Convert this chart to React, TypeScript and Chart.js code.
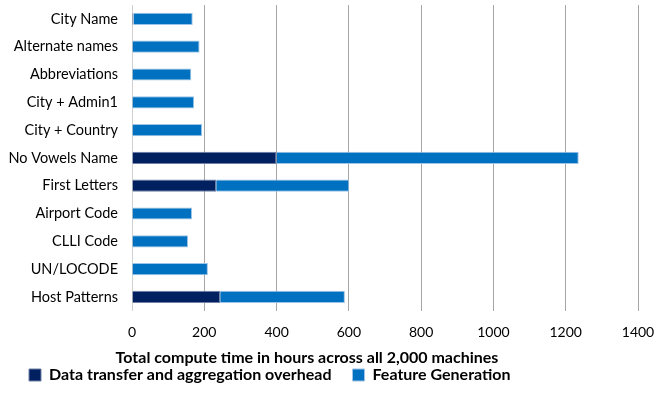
import React, { useEffect, useRef } from "react";
import { Chart, registerables } from "chart.js";

Chart.register(...registerables);

const categories = [
  "City Name",
  "Alternate names",
  "Abbreviations",
  "City + Admin1",
  "City + Country",
  "No Vowels Name",
  "First Letters",
  "Airport Code",
  "CLLI Code",
  "UN/LOCODE",
  "Host Patterns",
];
const overheadValues = [4, 0, 0, 0, 0, 400, 233, 0, 0, 0, 244];
const featureValues = [164, 187, 164, 172, 194, 836, 368, 166, 155, 210, 345];
const seriesNames = ["Data transfer and aggregation overhead", "Feature Generation"];
const axisTitle = "Total compute time in hours across all 2,000 machines";
const xMin = 0;
const xMax = 1400;
const xStep = 200;

const Y_FONT = "14.5px Lato";
const Y_PAD = 14;

const titleShift = {
  id: "titleShift",
  afterLayout(chart: any) {
    const t = chart.titleBlock;
    if (t) {
      t.left -= 24;
      t.right -= 24;
    }
  },
};

export default function App() {
  const ref = useRef<HTMLCanvasElement | null>(null);
  useEffect(() => {
    document.body.style.margin = "0";
    let chart: Chart | null = null;
    let cancelled = false;
    const fontsReady = Promise.all([
      document.fonts.load("15px Lato"),
      document.fonts.load("14px Lato"),
      document.fonts.load("bold 16px Lato"),
    ]).catch(() => null);
    fontsReady.then(() => {
      if (cancelled || !ref.current) return;
      chart = new Chart(ref.current, {
        type: "bar",
        data: {
          labels: categories,
          datasets: [
            {
              label: seriesNames[0],
              data: overheadValues,
              backgroundColor: "#002060",
              borderColor: "#6F7FA5",
              borderWidth: 1,
              categoryPercentage: 1,
              barPercentage: 0.44,
            },
            {
              label: seriesNames[1],
              data: featureValues,
              backgroundColor: "#0070C0",
              borderColor: "#9DC3E6",
              borderWidth: 1,
              categoryPercentage: 1,
              barPercentage: 0.44,
            },
          ],
        },
        plugins: [titleShift],
        options: {
          indexAxis: "y",
          animation: false,
          responsive: false,
          maintainAspectRatio: false,
          layout: { padding: { top: 5, left: 8, right: 0, bottom: 15 } },
          scales: {
            x: {
              stacked: true,
              min: xMin,
              max: xMax,
              ticks: {
                stepSize: xStep,
                color: "#000",
                font: { family: "Lato", size: 14 },
                padding: 13,
                callback: (v: any) => String(v),
              },
              grid: {
                color: (c: any) => (c.index === 0 ? "#D0D0D0" : "#A6A6A6"),
                lineWidth: 1,
                drawTicks: false,
              },
              border: { display: false },
              afterFit: (s: any) => {
                s.height = 30;
                s.paddingLeft = 0;
                s.paddingRight = 16;
              },
            },
            y: {
              stacked: true,
              ticks: {
                color: "#000",
                font: { family: "Lato", size: 14.5 },
                padding: Y_PAD,
              },
              grid: { display: false, drawTicks: false },
              border: { display: false },
              afterFit: (s: any) => {
                const c = s.ctx as CanvasRenderingContext2D;
                c.save();
                c.font = Y_FONT;
                let w = 0;
                for (const l of categories) w = Math.max(w, c.measureText(l).width);
                c.restore();
                s.width = Math.ceil(w) + Y_PAD;
                s.paddingTop = 0;
                s.paddingBottom = 0;
              },
            },
          },
          plugins: {
            tooltip: { enabled: false },
            title: {
              display: true,
              position: "bottom",
              text: axisTitle,
              weight: 500,
              color: "#000",
              font: { family: "Lato", size: 16, weight: "bold" },
              padding: { top: 7, bottom: -21 },
            } as any,
            legend: {
              position: "bottom",
              align: "start",
              labels: {
                boxWidth: 12,
                boxHeight: 12,
                color: "#000",
                font: { family: "Lato", size: 16, weight: "bold" },
                padding: 21,
              },
            },
          },
        },
      });
    });
    return () => {
      cancelled = true;
      if (chart) chart.destroy();
    };
  }, []);
  return (
    <div style={{ position: "fixed", left: 0, top: 0, width: 654, height: 408 }}>
      <canvas ref={ref} width={654} height={408} />
    </div>
  );
}
